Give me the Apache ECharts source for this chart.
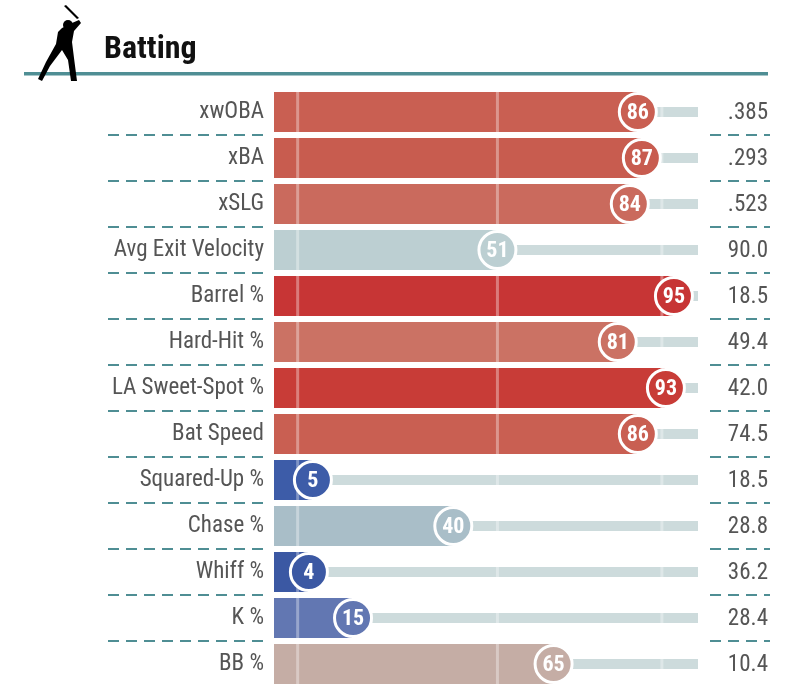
<!DOCTYPE html><html><head><meta charset="utf-8"><script src="https://cdn.jsdelivr.net/npm/echarts@6/dist/echarts.min.js"></script>
<style>html,body{margin:0;background:#fff}#c{width:802px;height:692px}</style></head><body><div id="c"></div><script>
var metrics=['xwOBA','xBA','xSLG','Avg Exit Velocity','Barrel %','Hard-Hit %','LA Sweet-Spot %','Bat Speed','Squared-Up %','Chase %','Whiff %','K %','BB %'];
var percentiles=[86,87,84,51,95,81,93,86,5,40,4,15,65];
var statValues=['.385','.293','.523','90.0','18.5','49.4','42.0','74.5','18.5','28.8','36.2','28.4','10.4'];
var barColors=['#c95f52','#c85c4f','#ca6a5d','#bccfd2','#c73535','#cb7264','#c83c37','#c95f52','#3d5ca8','#a9bec8','#3b58a3','#6277b2','#c5ada5'];
var refLines=[1.2,51,92];
var XMIN=-4.7,XMAX=101;
var chart=echarts.init(document.getElementById('c'));
var F='"Roboto Condensed","Liberation Sans Narrow","Roboto",sans-serif';
chart.setOption({
 animation:false,
 grid:{left:274,width:424,top:89,height:598},
 xAxis:{type:'value',min:XMIN,max:XMAX,show:false},
 yAxis:{type:'category',data:metrics,inverse:true,axisLine:{show:false},axisTick:{show:false},
  axisLabel:{margin:10,fontFamily:F,fontSize:23,color:'#555'}},
 graphic:[
  {type:'rect',shape:{x:24,y:72,width:744,height:3.5},style:{fill:'#4f8e94'}},
  {type:'text',x:104,y:34,style:{text:'Batting',font:'bold 32px '+F,fill:'#111'}},
  {type:'polygon',shape:{points:[[64,6],[66,5],[79,18],[77,19]]},style:{fill:'#000'}},
  {type:'circle',shape:{cx:68,cy:25,r:5},style:{fill:'#000'}},
  {type:'polygon',shape:{points:[[62,28],[72,23],[79,20],[81,23],[74,31],[72,42],[74,58],[77,81],[71,81],[68,60],[62,50],[50,66],[42,81],[38,79],[46,62],[56,44],[58,32]]},style:{fill:'#000'}}
 ],
 series:[{type:'custom',data:percentiles.map(function(v,i){return [v,i];}),
  renderItem:function(p,api){
   var v=api.value(0),i=api.value(1);
   var c=api.coord([v,i]);var o=api.coord([XMIN,i]);var e=api.coord([XMAX,i]);
   var h=40,ch=[];
   ch.push({type:'rect',shape:{x:c[0],y:c[1]-5,width:e[0]-c[0],height:10},style:{fill:'#cddbdc'}});
   ch.push({type:'rect',shape:{x:o[0],y:c[1]-h/2,width:c[0]-o[0],height:h},style:{fill:barColors[i]}});
   refLines.forEach(function(r){var rx=api.coord([r,i])[0];
     ch.push({type:'rect',shape:{x:rx-1.5,y:c[1]-h/2,width:3,height:h},style:{fill:'rgba(255,255,255,0.35)'}});});
   ch.push({type:'circle',shape:{cx:c[0],cy:c[1],r:18.5},style:{fill:barColors[i],stroke:'#fff',lineWidth:3}});
   ch.push({type:'text',style:{x:c[0],y:c[1]+1,text:String(v),align:'center',verticalAlign:'middle',font:'bold 22px '+F,fill:'#fff'}});
   ch.push({type:'text',style:{x:768,y:c[1]+1,text:statValues[i],align:'right',verticalAlign:'middle',font:'23px '+F,fill:'#555'}});
   if(i<metrics.length-1){
    ch.push({type:'line',shape:{x1:108,y1:c[1]+23,x2:263,y2:c[1]+23},style:{stroke:'#4f8e94',lineWidth:2,lineDash:[11,7]}});
    ch.push({type:'line',shape:{x1:710,y1:c[1]+23,x2:770,y2:c[1]+23},style:{stroke:'#4f8e94',lineWidth:2,lineDash:[11,7]}});
   }
   return {type:'group',children:ch};
  }}]
});
</script></body></html>
